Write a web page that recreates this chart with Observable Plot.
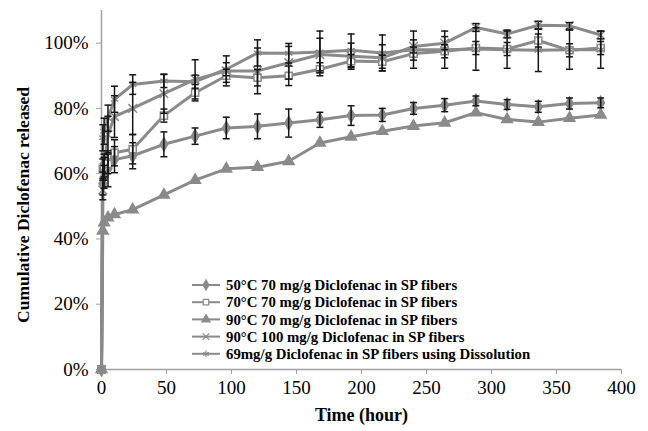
<!DOCTYPE html>
<html><head><meta charset="utf-8">
<script src="https://cdn.jsdelivr.net/npm/d3@7"></script>
<script src="https://cdn.jsdelivr.net/npm/@observablehq/plot@0.6"></script>
<style>
html,body{margin:0;padding:0;background:#fff;}
</style></head><body><div id="chart"></div>
<script>
// Time points (hours)
const times = [0, 1, 2, 5, 10, 24, 48, 72, 96, 120, 144, 168, 192, 216, 240, 264, 288, 312, 336, 360, 384];

const seriesNames = [
  "50°C 70 mg/g Diclofenac in SP fibers",
  "70°C 70 mg/g Diclofenac in SP fibers",
  "90°C 70 mg/g Diclofenac in SP fibers",
  "90°C 100 mg/g Diclofenac in SP fibers",
  "69mg/g Diclofenac in SP fibers using Dissolution"
];

// Cumulative release (%) and error (±%)
const s1 = [0, 57, 59, 61.5, 64.3, 65.5, 69, 71.5, 74, 74.5, 75.5, 76.5, 77.8, 78, 80, 81, 82.3, 81.2, 80.5, 81.5, 81.7];
const e1 = [0, 3.5, 3.5, 5.5, 4, 4, 3.8, 2.5, 3.3, 3.8, 4.3, 2.3, 3, 2, 1.8, 2, 1.5, 1.5, 1.7, 1.7, 1.5];
const s2 = [0, 61.5, 62, 63, 66.4, 67.5, 77.8, 84.8, 90, 89.4, 90, 92, 94.5, 94.3, 96.8, 97.5, 98.5, 98.2, 100.8, 97.8, 98.5];
const e2 = [0, 3, 3, 3, 4, 4.5, 2, 2.5, 2, 2.5, 3, 2, 2, 2, 2, 2, 2, 2, 2, 2, 2];
const s3 = [0, 42.5, 45, 46.5, 47.5, 49, 53.5, 58, 61.5, 62, 63.8, 69.4, 71.3, 73, 74.6, 75.6, 78.7, 76.6, 75.8, 77, 78];
const e3 = [0, 0, 0, 0, 0, 0, 0, 0, 0, 0, 0, 0, 0, 0, 0, 0, 0, 0, 0, 0, 0];
const s4 = [0, 55, 62, 72, 77.5, 80, 84.5, 88.9, 91.5, 91.5, 94, 96.5, 96, 95.5, 99, 100, 104.8, 102.8, 105.5, 105.3, 102.5];
const e4 = [0, 3, 4, 5.6, 6.4, 8, 6, 6, 4.6, 7, 5, 5, 4, 4, 2, 2, 1.2, 1.2, 1.2, 1, 1.2];
const s5 = [0, 71, 73, 77, 82.8, 87.3, 88.4, 88.2, 92, 97, 96.9, 97.3, 97.8, 97, 98, 98, 98.2, 98, 97.8, 98, 98];
const e5 = [0, 4, 4, 4, 4, 3, 2, 2, 2, 4, 3, 6.4, 5, 5.5, 5.7, 5.7, 6.5, 5.7, 6.5, 6, 5.7];

const xTicks = [0, 50, 100, 150, 200, 250, 300, 350, 400];
const yTicks = [0, 0.2, 0.4, 0.6, 0.8, 1.0];
const xLabel = "Time (hour)";
const yLabel = "Cumulative Diclofenac released";

const GRAY = "#8a8a8a";
const AXIS = "#a0a0a0";
const BAR = "#151515";
const FONT = "'Liberation Serif', 'Times New Roman', serif";

const defs = [
  {values: s1, errors: e1, symbol: "diamond", d3sym: d3.symbolDiamond, fill: GRAY, stroke: GRAY},
  {values: s2, errors: e2, symbol: "square", d3sym: d3.symbolSquare, fill: "white", stroke: GRAY},
  {values: s3, errors: e3, symbol: "triangle", d3sym: d3.symbolTriangle, fill: GRAY, stroke: GRAY},
  {values: s4, errors: e4, symbol: "times", d3sym: d3.symbolTimes, fill: "none", stroke: GRAY},
  {values: s5, errors: e5, symbol: "asterisk", d3sym: d3.symbolAsterisk, fill: "none", stroke: GRAY}
];

const rows = defs.flatMap((s, i) => times.map((t, j) => ({
  series: seriesNames[i], idx: i, t, v: s.values[j] / 100, e: s.errors[j] / 100
})));
const errRows = rows.filter(d => d.e > 0);

const capSymbol = {draw(ctx, size) { const w = Math.sqrt(size / Math.PI); ctx.moveTo(-w, 0); ctx.lineTo(w, 0); }};

const marks = [
  Plot.ruleX([0], {y1: 0, y2: 1.1, stroke: AXIS, strokeWidth: 1.5}),
  Plot.ruleY([0], {x1: 0, x2: 400, stroke: AXIS, strokeWidth: 1.5}),
  Plot.axisY({ticks: yTicks, tickFormat: d3.format(".0%"), tickSize: 5, tickPadding: 8, stroke: AXIS, fill: "black", label: null}),
  Plot.axisX({ticks: xTicks, tickSize: 5, tickPadding: 6, stroke: AXIS, fill: "black", label: null})
];
defs.forEach((s, i) => {
  marks.push(Plot.line(rows.filter(d => d.idx === i), {x: "t", y: "v", stroke: GRAY, strokeWidth: 3}));
});
defs.forEach((s, i) => {
  marks.push(Plot.dot(rows.filter(d => d.idx === i), {x: "t", y: "v", symbol: s.symbol, r: 4, fill: s.fill, stroke: s.stroke, strokeWidth: 1.5}));
});
marks.push(
  Plot.ruleX(errRows, {x: "t", y1: d => d.v - d.e, y2: d => d.v + d.e, stroke: BAR, strokeWidth: 1.5}),
  Plot.dot(errRows, {x: "t", y: d => d.v - d.e, symbol: capSymbol, r: 3.5, stroke: BAR, strokeWidth: 1.5}),
  Plot.dot(errRows, {x: "t", y: d => d.v + d.e, symbol: capSymbol, r: 3.5, stroke: BAR, strokeWidth: 1.5}),
  Plot.text([xLabel], {frameAnchor: "bottom", dy: 51, fontWeight: "bold", fontSize: 18, fill: "black"}),
  Plot.text([yLabel], {frameAnchor: "left", textAnchor: "middle", rotate: -90, dx: -78, dy: 15, fontWeight: "bold", fontSize: 17.5, fill: "black"})
);

const chart = Plot.plot({
  width: 648, height: 431,
  marginLeft: 101, marginRight: 27, marginTop: 10, marginBottom: 62,
  x: {domain: [0, 400]},
  y: {domain: [0, 1.1]},
  style: {fontFamily: FONT, fontSize: "19px", background: "white", color: "black", overflow: "visible"},
  marks
});

// Legend (inside the plot area)
const svg = d3.select(chart);
const lg = svg.append("g").attr("font-family", FONT).attr("font-size", 14.8).attr("font-weight", "bold").attr("text-anchor", "start");
defs.forEach((s, i) => {
  const y = 285 + i * 17.2;
  lg.append("line").attr("x1", 192).attr("x2", 220).attr("y1", y).attr("y2", y).attr("stroke", GRAY).attr("stroke-width", 2);
  lg.append("path").attr("d", d3.symbol(s.d3sym, 30)()).attr("transform", `translate(206,${y})`)
    .attr("fill", s.fill).attr("stroke", s.stroke).attr("stroke-width", 1.2);
  lg.append("text").attr("x", 226).attr("y", y).attr("dy", "0.35em").attr("fill", "black").text(seriesNames[i]);
});

document.getElementById("chart").appendChild(chart);
</script>
</body></html>
